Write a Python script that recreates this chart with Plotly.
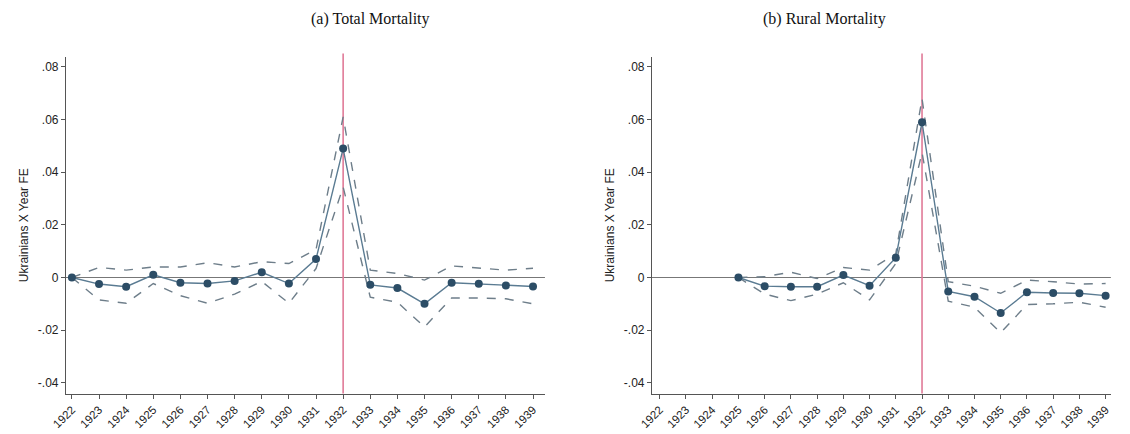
import plotly.graph_objects as go
from plotly.subplots import make_subplots

years = list(range(1922, 1940))
total_est = [0, -0.0025, -0.0035, 0.001, -0.002, -0.0023, -0.0013, 0.002, -0.0023, 0.007,
             0.049, -0.0028, -0.004, -0.010, -0.002, -0.0024, -0.003, -0.0034]
total_hi = [0, 0.0038, 0.0028, 0.004, 0.004, 0.0056, 0.004, 0.006, 0.0053, 0.0106,
            0.061, 0.0028, 0.0015, -0.001, 0.0044, 0.0035, 0.0028, 0.0035]
total_lo = [0, -0.0085, -0.0098, -0.0023, -0.0069, -0.0098, -0.0063, -0.0015, -0.0098, 0.0034,
            0.0344, -0.0075, -0.0094, -0.0188, -0.0078, -0.0078, -0.0081, -0.010]

rural_years = list(range(1925, 1940))
rural_est = [0, -0.0033, -0.0035, -0.0035, 0.0009, -0.0031, 0.0075, 0.059, -0.0053, -0.0073,
             -0.0135, -0.0056, -0.0059, -0.006, -0.0069]
rural_hi = [0, 0.0003, 0.002, -0.0004, 0.0038, 0.0028, 0.0091, 0.068, -0.0016, -0.0033,
            -0.006, -0.001, -0.0016, -0.0025, -0.0023]
rural_lo = [0, -0.0063, -0.0088, -0.0063, -0.002, -0.0085, 0.0053, 0.0475, -0.009, -0.0113,
            -0.021, -0.0103, -0.010, -0.0094, -0.0113]

panels = [("(a) Total Mortality", years, total_est, total_hi, total_lo),
          ("(b) Rural Mortality", rural_years, rural_est, rural_hi, rural_lo)]

fig = make_subplots(rows=1, cols=2)
dash_col = "#6e7e8a"
for i, (title, xs, est, hi, lo) in enumerate(panels):
    c = i + 1
    for band in (hi, lo):
        fig.add_trace(go.Scatter(x=xs, y=band, mode="lines",
                                 line=dict(color=dash_col, width=1.4, dash="dash")), row=1, col=c)
    fig.add_trace(go.Scatter(x=xs, y=est, mode="lines+markers",
                             line=dict(color="#5a7b92", width=1.4),
                             marker=dict(color="#2c4d66", size=8)), row=1, col=c)

# page body has an 8px margin, so the figure is drawn a bit smaller
fig.update_layout(
    width=1114, height=426, margin=dict(l=0, r=0, t=0, b=0),
    paper_bgcolor="white", plot_bgcolor="white", showlegend=False,
    font=dict(family="Liberation Sans, Arial", size=12, color="#222"),
    xaxis=dict(domain=[0.052, 0.482], range=[1921.78, 1939.44]),
    xaxis2=dict(domain=[0.578, 0.99], range=[1921.7, 1939.2]),
    yaxis=dict(domain=[0.095, 0.885], range=[-0.0441, 0.0838]),
    yaxis2=dict(domain=[0.095, 0.885], range=[-0.0441, 0.0838]),
)
tickvals = [-0.04, -0.02, 0, 0.02, 0.04, 0.06, 0.08]
ticktext = ["-.04", "-.02", "0", ".02", ".04", ".06", ".08"]
fig.update_xaxes(tickmode="array", tickvals=years, ticktext=[str(y) for y in years],
                 tickangle=-45, tickfont=dict(size=11.5),
                 showgrid=False, zeroline=False, showline=True, automargin=False,
                 linecolor="#555", ticks="outside", ticklen=4, tickcolor="#555")
fig.update_yaxes(tickmode="array", tickvals=tickvals, ticktext=ticktext, automargin=False,
                 showgrid=False, zeroline=False, showline=True, linecolor="#555",
                 ticks="outside", ticklen=4, tickcolor="#555",
                 title=dict(text="Ukrainians X Year FE", standoff=6, font=dict(size=12)))

for c, xr in ((1, "x"), (2, "x2")):
    yr = "y" if c == 1 else "y2"
    fig.add_shape(type="line", xref=f"{xr} domain", yref=yr, x0=0, x1=1, y0=0, y1=0,
                  line=dict(color="#777", width=1.2), layer="below")
    fig.add_shape(type="line", xref=xr, yref=f"{yr} domain", x0=1932, x1=1932, y0=0, y1=1.01,
                  line=dict(color="#e07a98", width=1.6), layer="below")

for (title, *_), xc in zip(panels, (0.27, 0.79)):
    fig.add_annotation(text=title, x=xc, y=1.0, xref="paper", yref="paper", yanchor="top",
                       showarrow=False, font=dict(family="Liberation Serif, Times New Roman", size=16, color="#111"))

fig.write_html("out.html")
